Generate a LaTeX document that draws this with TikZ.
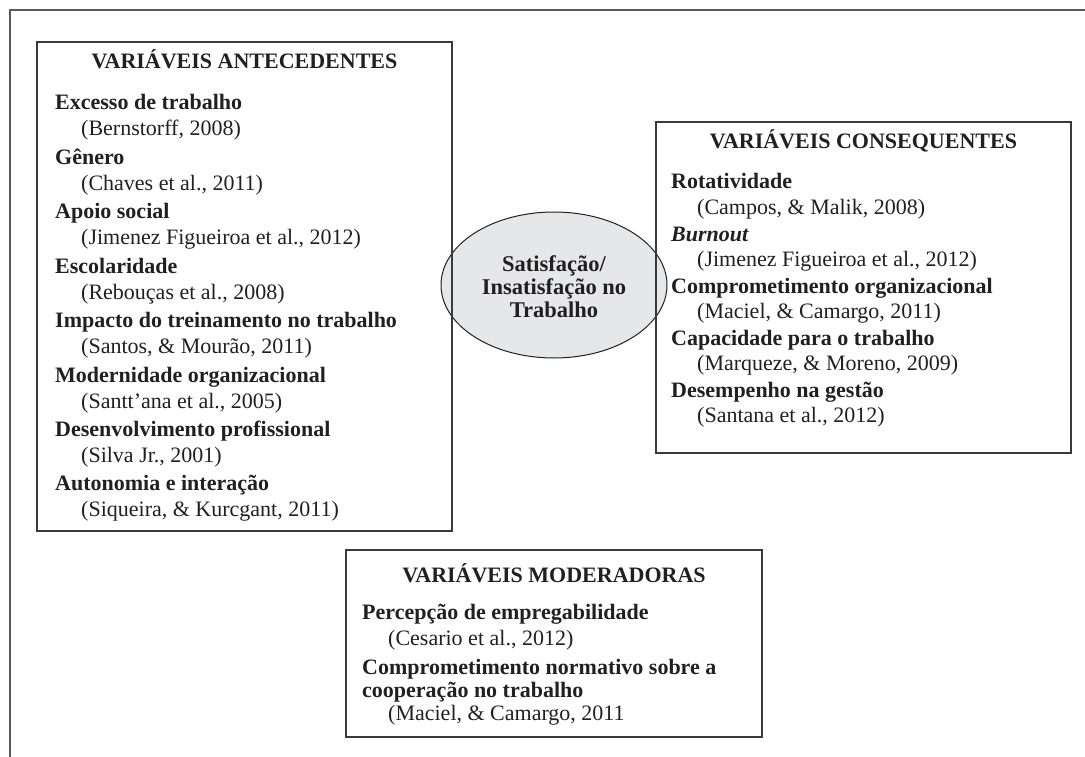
\documentclass[tikz,border=0pt]{standalone}
\usepackage{fontspec}
\setmainfont{Liberation Serif}
\usetikzlibrary{shapes.geometric}
\definecolor{ink}{HTML}{231F20}
\definecolor{frameg}{HTML}{58595B}
\definecolor{boxg}{HTML}{3A3A3A}
\definecolor{ellfill}{HTML}{E6E7E8}
\begin{document}
\begin{tikzpicture}[x=1pt,y=-1pt,
  boxst/.style={draw=boxg, line width=1.3pt, inner sep=0pt},
  hd/.style={anchor=base, inner sep=0pt, font=\fontsize{22}{26}\selectfont\bfseries, text=ink},
  itm/.style={anchor=base west, inner sep=0pt, font=\fontsize{22}{26}\selectfont\bfseries, text=ink},
  cit/.style={anchor=base west, inner sep=0pt, font=\fontsize{22}{26}\selectfont, text=ink}]
\useasboundingbox (0,0) rectangle (1085,757);
% outer frame (only top and left visible)
\coordinate (fbl) at (10,757);
\coordinate (ftl) at (10,10);
\coordinate (ftr) at (1085,10);
\draw[frameg, line width=1.5pt] (fbl) -- (ftl) -- (ftr);
% central ellipse
\node[ellipse, draw=ink, line width=1pt, fill=ellfill, minimum width=226pt, minimum height=146pt, inner sep=0pt] (sat) at (554,285) {};
\node[align=center, inner sep=0pt, font=\fontsize{22.5}{23}\selectfont\bfseries, text=ink] (satt) at (554,287) {Satisfação/\\Insatisfação no\\Trabalho};
% boxes
\node[boxst, minimum width=415pt, minimum height=489pt] (ant) at (244.5,286.5) {};
\node[boxst, minimum width=415pt, minimum height=331pt] (con) at (863.5,287.5) {};
\node[boxst, minimum width=416pt, minimum height=187pt] (mod) at (554,643.5) {};
% antecedentes
\node[hd] (anth) at (244.5,69) {VARIÁVEIS ANTECEDENTES};
\node[itm] (a1) at (55,110) {Excesso de trabalho};
\node[cit] (a1c) at (81,136) {(Bernstorff, 2008)};
\node[itm] (a2) at (55,164.4) {Gênero};
\node[cit] (a2c) at (81,190.4) {(Chaves et al., 2011)};
\node[itm] (a3) at (55,218.8) {Apoio social};
\node[cit] (a3c) at (81,244.8) {(Jimenez Figueiroa et al., 2012)};
\node[itm] (a4) at (55,273.2) {Escolaridade};
\node[cit] (a4c) at (81,299.2) {(Rebouças et al., 2008)};
\node[itm] (a5) at (55,327.6) {Impacto do treinamento no trabalho};
\node[cit] (a5c) at (81,353.6) {(Santos, \& Mourão, 2011)};
\node[itm] (a6) at (55,382) {Modernidade organizacional};
\node[cit] (a6c) at (81,408) {(Santt’ana et al., 2005)};
\node[itm] (a7) at (55,436.4) {Desenvolvimento profissional};
\node[cit] (a7c) at (81,462.4) {(Silva Jr., 2001)};
\node[itm] (a8) at (55,490.8) {Autonomia e interação};
\node[cit] (a8c) at (81,516.8) {(Siqueira, \& Kurcgant, 2011)};
% consequentes
\node[hd] (conh) at (863.5,149) {VARIÁVEIS CONSEQUENTES};
\node[itm] (c1) at (671,189) {Rotatividade};
\node[cit] (c1c) at (697,214.5) {(Campos, \& Malik, 2008)};
\node[itm] (c2) at (671,241) {\itshape Burnout};
\node[cit] (c2c) at (697,266.5) {(Jimenez Figueiroa et al., 2012)};
\node[itm] (c3) at (671,293) {Comprometimento organizacional};
\node[cit] (c3c) at (697,318.5) {(Maciel, \& Camargo, 2011)};
\node[itm] (c4) at (671,345) {Capacidade para o trabalho};
\node[cit] (c4c) at (697,370.5) {(Marqueze, \& Moreno, 2009)};
\node[itm] (c5) at (671,397) {Desempenho na gestão};
\node[cit] (c5c) at (697,422.5) {(Santana et al., 2012)};
% moderadoras
\node[hd] (modh) at (554,582) {VARIÁVEIS MODERADORAS};
\node[itm] (m1) at (362,619) {Percepção de empregabilidade};
\node[cit] (m1c) at (388,645) {(Cesario et al., 2012)};
\node[itm] (m2) at (362,674) {Comprometimento normativo sobre a};
\node[itm] (m2b) at (362,697) {cooperação no trabalho};
\node[cit] (m2c) at (388,720) {(Maciel, \& Camargo, 2011};
\end{tikzpicture}
\end{document}
